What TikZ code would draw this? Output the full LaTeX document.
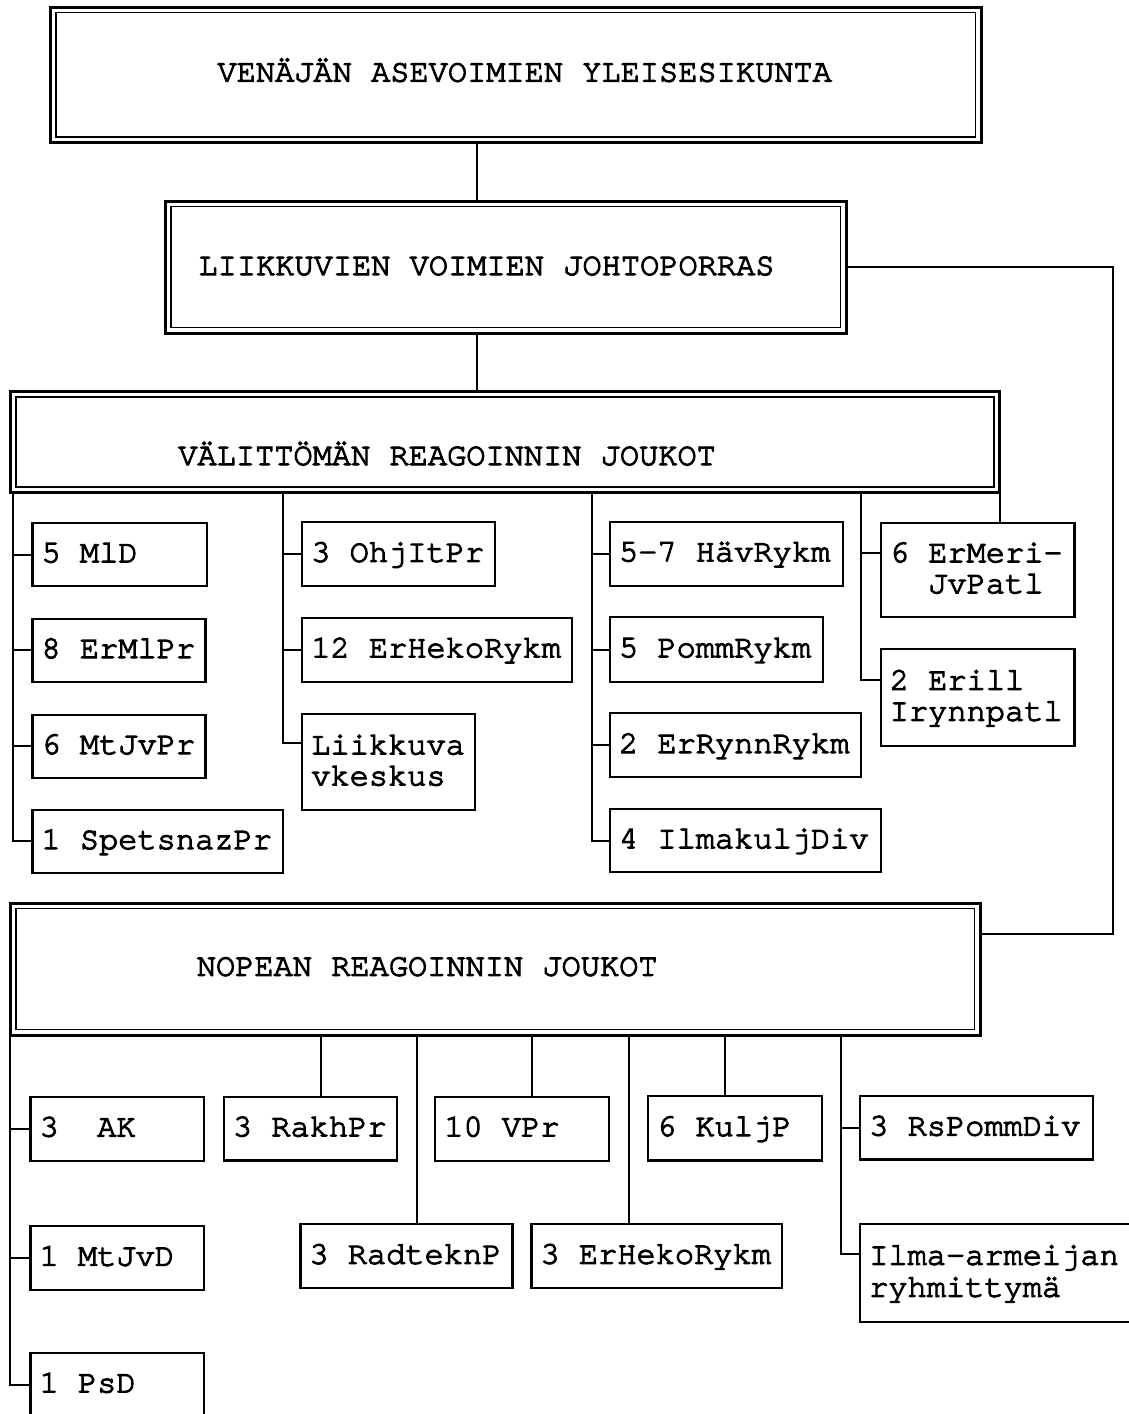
\documentclass[tikz,border=0pt]{standalone}
\usepackage{fontspec}
\usetikzlibrary{calc}
\newfontfamily\cursorfont{TeX Gyre Cursor}[FakeBold=3.5]
\newcommand\orgfont{\cursorfont\fontsize{32}{31}\selectfont}
\newcommand\ustrut{\rule[-7.8pt]{0pt}{31pt}}
% one character cell of the typewriter font
\newcommand\csp{\kern0.6em\relax}
\newcommand\hqtext[3]{\hspace*{#1}\raisebox{-#2}[0pt][0pt]{#3}}
\hyphenpenalty=10000
\exhyphenpenalty=10000

\begin{document}
\begin{tikzpicture}[x=1pt, y=-1pt,
  wire/.style={line width=2pt},
  unitbox/.style={draw, line width=2.3pt, anchor=north west, outer sep=0pt,
    inner xsep=9pt, inner ysep=0pt, align=left, font=\orgfont,
    execute at begin node=\ustrut, execute at end node=\ustrut},
  hqbox/.style={draw, line width=3pt, anchor=north west, outer sep=0pt,
    inner sep=0pt, align=left, font=\orgfont},
  innerframe/.style={line width=1.8pt}
]
\useasboundingbox (0,0) rectangle (1129,1414);
\fill[white] (0,0) rectangle (1129,1414);
\clip (0,0) rectangle (1129,1414);

% headquarters levels (double framed)
\node[hqbox, text width=930.5pt, minimum height=135.3pt] (gs) at (50.5,7)
  {\hqtext{167pt}{6.9pt}{VENÄJÄN\csp ASEVOIMIEN\csp YLEISESIKUNTA}};
\node[hqbox, text width=680.5pt, minimum height=132pt] (mob) at (165.5,201)
  {\hqtext{33pt}{8pt}{LIIKKUVIEN\csp VOIMIEN\csp JOHTOPORRAS}};
\node[hqbox, text width=989.2pt, minimum height=101.2pt] (imm) at (10.3,391.5)
  {\hqtext{168pt}{22.9pt}{VÄLITTÖMÄN\csp REAGOINNIN\csp JOUKOT}};
\node[hqbox, text width=969.7pt, minimum height=132pt] (rap) at (10.3,903)
  {\hqtext{186.5pt}{6.7pt}{NOPEAN\csp REAGOINNIN\csp JOUKOT}};
\foreach \n in {gs,mob,imm,rap}
  \draw[innerframe] ([xshift=5.5pt,yshift=-5.5pt]\n.north west)
    rectangle ([xshift=-5.5pt,yshift=5.5pt]\n.south east);

% immediate reaction forces
\node[unitbox, text width=156.2pt, minimum height=62.7pt] (a1) at (32.5,523.3) {5\csp MlD};
\node[unitbox, text width=155pt, minimum height=62.7pt] (a2) at (32.5,619) {8\csp ErMlPr};
\node[unitbox, text width=155pt, minimum height=62.7pt] (a3) at (32.5,715) {6\csp MtJvPr};
\node[unitbox, text width=232.7pt, minimum height=62.7pt] (a4) at (32.5,810) {1\csp SpetsnazPr};

\node[unitbox, text width=174.5pt, minimum height=63.7pt] (b1) at (302.3,522.3) {3\csp OhjItPr};
\node[unitbox, text width=251.7pt, minimum height=64pt] (b2) at (302.3,617.7) {12\csp ErHekoRykm};
\node[unitbox, text width=155pt, minimum height=95.7pt] (b3) at (302.3,714.3) {Liikkuva\\vkeskus};

\node[unitbox, text width=215pt, minimum height=64pt] (c1) at (610,521.7) {5-7\csp HävRykm};
\node[unitbox, text width=194.7pt, minimum height=64.4pt] (c2) at (610,617.3) {5\csp PommRykm};
\node[unitbox, text width=233pt, minimum height=64pt] (c3) at (610,713.3) {2\csp ErRynnRykm};
\node[unitbox, text width=253pt, minimum height=62.4pt] (c4) at (610,809.3) {4\csp IlmakuljDiv};

\node[unitbox, text width=175.7pt, minimum height=94.6pt] (d1) at (880.8,522.7) {6\csp ErMeri-\\\hspace*{1.2em}JvPatl};
\node[unitbox, text width=175.7pt, minimum height=96.4pt] (d2) at (880.8,649.3) {2\csp Erill\\Irynnpatl};

% rapid reaction forces
\node[unitbox, text width=155.4pt, minimum height=64.3pt] (e1) at (30.6,1096.7) {3\csp\csp AK};
\node[unitbox, text width=155.4pt, minimum height=64.1pt] (e2) at (30.6,1225.9) {1\csp MtJvD};
\node[unitbox, text width=155.4pt, minimum height=64pt] (e3) at (30.6,1352.7) {1\csp PsD};

\node[unitbox, text width=155.1pt, minimum height=63.8pt] (f1) at (223.9,1096.7) {3\csp RakhPr};
\node[unitbox, text width=156pt, minimum height=64pt] (f2) at (435.3,1096.7) {10\csp VPr};
\node[unitbox, text width=155.7pt, minimum height=64.6pt] (f3) at (648,1096) {6\csp KuljP};
\node[unitbox, text width=214.7pt, minimum height=63.6pt] (f4) at (860.2,1096) {3\csp RsPommDiv};

\node[unitbox, text width=194.1pt, minimum height=64.3pt] (g1) at (300.4,1224) {3\csp RadteknP};
\node[unitbox, text width=232.5pt, minimum height=64pt] (g2) at (531.5,1224) {3\csp ErHekoRykm};
\node[unitbox, text width=271.8pt, minimum height=97.4pt,
  font=\cursorfont\fontsize{32}{27}\selectfont] (g3) at (860.2,1224.3) {Ilma-armeijan\\ryhmittymä};

% trunk positions
\coordinate (sx) at (476.5,0);
\coordinate (loop) at (1113,934);
\coordinate (ta) at (13.4,0);
\coordinate (tb) at (283.2,0);
\coordinate (tc) at (591.6,0);
\coordinate (td) at (861,0);
\coordinate (te) at (1000,0);
\coordinate (ua) at (10.3,0);
\coordinate (ub) at (320.7,0);
\coordinate (uc) at (417,0);
\coordinate (ud) at (531.5,0);
\coordinate (ue) at (628.5,0);
\coordinate (uf) at (724.6,0);
\coordinate (ug) at (841,0);

% first text line of the two-line boxes
\coordinate (b3t) at ($(b3.north west)+(0,29)$);
\coordinate (d1t) at ($(d1.north west)+(0,30)$);
\coordinate (d2t) at ($(d2.north west)+(0,30.5)$);
\coordinate (g3t) at ($(g3.north west)+(0,29.7)$);

% command chain
\draw[wire] (gs.south -| sx) -- (mob.north -| sx);
\draw[wire] (mob.south -| sx) -- (imm.north -| sx);
\draw[wire] (mob.east) -| (loop) -- (rap.east |- loop);

% branches of the immediate reaction forces
\draw[wire] (imm.south -| ta) |- (a4.west);
\foreach \n in {a1,a2,a3} \draw[wire] (\n.west -| ta) -- (\n.west);
\draw[wire] (imm.south -| tb) |- (b3t);
\foreach \n in {b1,b2} \draw[wire] (\n.west -| tb) -- (\n.west);
\draw[wire] (imm.south -| tc) |- (c4.west);
\foreach \n in {c1,c2,c3} \draw[wire] (\n.west -| tc) -- (\n.west);
\draw[wire] (imm.south -| td) |- (d2t);
\draw[wire] (d1t -| td) -- (d1t);
\draw[wire] (imm.south -| te) -- (d1.north -| te);

% branches of the rapid reaction forces
\draw[wire] (rap.south -| ua) |- (e3.west);
\foreach \n in {e1,e2} \draw[wire] (\n.west -| ua) -- (\n.west);
\draw[wire] (rap.south -| ub) -- (f1.north -| ub);
\draw[wire] (rap.south -| uc) -- (g1.north -| uc);
\draw[wire] (rap.south -| ud) -- (f2.north -| ud);
\draw[wire] (rap.south -| ue) -- (g2.north -| ue);
\draw[wire] (rap.south -| uf) -- (f3.north -| uf);
\draw[wire] (rap.south -| ug) |- (g3t);
\draw[wire] (f4.west -| ug) -- (f4.west);
\end{tikzpicture}
\end{document}
